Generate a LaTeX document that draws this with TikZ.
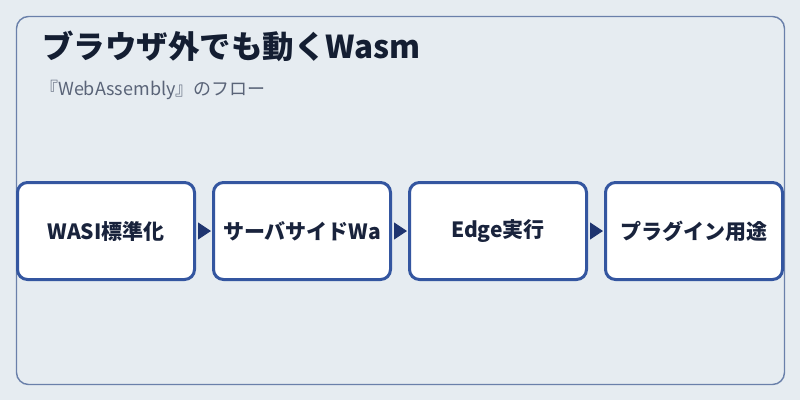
\documentclass[tikz,border=0pt]{standalone}
\usepackage{fontspec}
\setmainfont{Noto Sans CJK JP}
\usetikzlibrary{arrows.meta, positioning}
\definecolor{PageBg}     {RGB}{230, 236, 241}
\definecolor{FrameBlue}  {RGB}{106, 128, 170}
\definecolor{TitleInk}   {RGB}{ 20,  30,  50}
\definecolor{SubInk}     {RGB}{ 90, 100, 120}
\definecolor{StepBlue}   {RGB}{ 52,  86, 160}
\definecolor{StepInk}    {RGB}{ 25,  35,  60}
\definecolor{TipNavy}    {RGB}{ 31,  53, 112}
\tikzset{
  % outer frame
  framebox/.style={
    draw=FrameBlue, line width=1.4pt, rounded corners=12pt
  },
  % flow step node
  stepbox/.style={
    rectangle, rounded corners=10pt,
    fill=white, draw=StepBlue, line width=3pt,
    text=StepInk, font=\bfseries\fontsize{21}{24}\selectfont,
    minimum width=177pt, minimum height=97pt,
    inner sep=2pt, align=center
  },
  % arrow between steps
  flowarrow/.style={
    -{Triangle[length=13pt, width=17pt]}, line width=1pt, color=TipNavy,
    shorten <=2pt, shorten >=1pt
  }
}

\begin{document}
\begin{tikzpicture}[x=1pt, y=-1pt]

  % background and frame
  \fill[PageBg] (0,0) rectangle (800,400);
  \useasboundingbox (0,0) rectangle (800,400);
  \draw[framebox] (16.5,16.5) rectangle (784.5,384.5);

  % heading
  \node[anchor=base west, inner sep=0pt, text=TitleInk,
        font=\bfseries\fontsize{31.5}{36}\selectfont] (title) at (42,58)
        {ブラウザ外でも動くWasm};
  \node[anchor=base west, inner sep=0pt, text=SubInk,
        font=\fontsize{18}{21}\selectfont] (subtitle) at (40,95)
        {『WebAssembly』のフロー};

  % steps
  \node[stepbox] (wasi) at (106,231) {WASI標準化};
  \node[stepbox, right=16pt of wasi] (server) {サーバサイドWa};
  \node[stepbox, right=16pt of server] (edge) {Edge実行};
  \node[stepbox, right=16pt of edge] (plugin) {プラグイン用途};

  % arrows
  \draw[flowarrow] (wasi.east) -- (server.west);
  \draw[flowarrow] (server.east) -- (edge.west);
  \draw[flowarrow] (edge.east) -- (plugin.west);

\end{tikzpicture}
\end{document}
